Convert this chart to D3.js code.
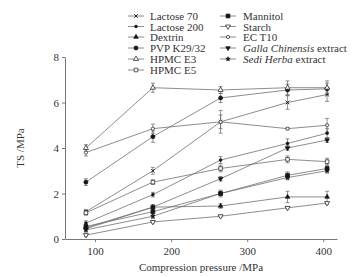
<!DOCTYPE html>
<html><head><meta charset="utf-8">
<script src="https://cdn.jsdelivr.net/npm/d3@7"></script>
<style>body{margin:0;background:#fff}svg{display:block}</style>
</head><body>
<svg id="c" width="357" height="277"></svg>
<script>
const pressures = [88, 176, 265, 353, 405];
const xTicks = [100, 200, 300, 400];
const yTicks = [0, 2, 4, 6, 8];
const seriesNames = ["Lactose 70","Lactose 200","Dextrin","PVP K29/32","HPMC E3","HPMC E5","Mannitol","Starch","EC T10","Galla Chinensis extract","Sedi Herba extract"];
const lactose70 = [1.2, 3.0, 5.15, 6.0, 6.35];
const lactose200 = [0.7, 1.95, 3.47, 4.2, 4.65];
const dextrin = [0.5, 1.4, 1.45, 1.85, 1.85];
const pvp = [2.5, 4.5, 6.2, 6.55, 6.6];
const hpmcE3 = [4.0, 6.65, 6.55, 6.65, 6.65];
const hpmcE5 = [1.15, 2.5, 3.1, 3.5, 3.4];
const mannitol = [0.55, 1.2, 2.0, 2.8, 3.1];
const starch = [0.17, 0.75, 1.0, 1.37, 1.58];
const ecT10 = [3.8, 4.85, 5.15, 4.85, 5.0];
const galla = [0.45, 1.4, 2.65, 4.0, 4.35];
const sedi = [0.4, 1.0, 2.0, 2.7, 3.0];
const errLactose70 = [0.1, 0.15, 0.3, 0.3, 0.3];
const errLactose200 = [0.1, 0.1, 0.15, 0.2, 0.2];
const errDextrin = [0.1, 0.1, 0.1, 0.25, 0.25];
const errPvp = [0.15, 0.25, 0.2, 0.25, 0.25];
const errHpmcE3 = [0.15, 0.2, 0.15, 0.3, 0.3];
const errHpmcE5 = [0.1, 0.1, 0.15, 0.15, 0.15];
const errMannitol = [0.1, 0.15, 0.15, 0.15, 0.15];
const errStarch = [0.05, 0.05, 0.05, 0.05, 0.05];
const errEcT10 = [0.15, 0.2, 0.5, 0.05, 0.3];
const errGalla = [0.1, 0.1, 0.1, 0.1, 0.1];
const errSedi = [0.1, 0.1, 0.1, 0.1, 0.1];

const values = [lactose70, lactose200, dextrin, pvp, hpmcE3, hpmcE5, mannitol, starch, ecT10, galla, sedi];
const errs = [errLactose70, errLactose200, errDextrin, errPvp, errHpmcE3, errHpmcE5, errMannitol, errStarch, errEcT10, errGalla, errSedi];
// marker specs: [symbol, size, filled, rotate]
const markers = [
  [d3.symbolX, 10, false, 0],
  [d3.symbolCircle, 6, true, 0],
  [d3.symbolTriangle, 9, true, 0],
  [d3.symbolCircle, 13, true, 0],
  [d3.symbolTriangle, 11, false, 0],
  [d3.symbolSquare, 13, false, 0],
  [d3.symbolSquare, 15, true, 0],
  [d3.symbolTriangle, 11, false, 180],
  [d3.symbolCircle, 8, false, 0],
  [d3.symbolTriangle, 9, true, 180],
  [d3.symbolStar, 6, true, 0]
];

const svg = d3.select("#c");
const font = "'Liberation Serif', 'Times New Roman', serif";
const x = d3.scaleLinear().domain([60.5, 418]).range([65, 337]);
const y = d3.scaleLinear().domain([0, 8]).range([239, 57]);

const lineCol = "#707070", markCol = "#151515";
const g = svg.append("g");

// axes
const xa = svg.append("g").attr("transform","translate(0,239)")
  .call(d3.axisBottom(x).tickValues(xTicks).tickSize(3).tickSizeOuter(0).tickPadding(5));
const ya = svg.append("g").attr("transform","translate(65,0)")
  .call(d3.axisLeft(y).tickValues(yTicks).tickSize(3).tickSizeOuter(0).tickPadding(3));
[xa, ya].forEach(a => {
  a.select(".domain").attr("stroke","#777").attr("stroke-width",1);
  a.selectAll(".tick line").attr("stroke","#777");
  a.selectAll("text").attr("font-family",font).attr("font-size",11).attr("fill","#333");
});

svg.append("text").attr("x",201).attr("y",271).attr("text-anchor","middle")
  .attr("font-family",font).attr("font-size",11).attr("fill","#333").text("Compression pressure /MPa");
svg.append("text").attr("transform","translate(24,148) rotate(-90)").attr("text-anchor","middle")
  .attr("font-family",font).attr("font-size",11).attr("fill","#333").text("TS /MPa");

const line = d3.line().x((d,i)=>x(pressures[i])).y(d=>y(d));

function drawMarker(sel, m, cx, cy) {
  const [sym, size, filled, rot] = m;
  const stroke = (sym === d3.symbolX);
  sel.append("path").attr("d", d3.symbol(sym, size)())
    .attr("transform", `translate(${cx},${cy}) rotate(${rot})`)
    .attr("fill", (filled && !stroke) ? markCol : "#fff")
    .attr("stroke", markCol).attr("stroke-width", stroke ? 0.9 : 0.7);
}

values.forEach((vals, s) => {
  g.append("path").datum(vals).attr("d", line).attr("fill","none")
    .attr("stroke", lineCol).attr("stroke-width", 0.8);
});
values.forEach((vals, s) => {
  vals.forEach((v, i) => {
    const e = errs[s][i], cx = x(pressures[i]);
    g.append("line").attr("x1",cx).attr("x2",cx).attr("y1",y(v-e)).attr("y2",y(v+e))
      .attr("stroke","#666").attr("stroke-width",0.7);
    [v-e, v+e].forEach(t => g.append("line").attr("x1",cx-2).attr("x2",cx+2)
      .attr("y1",y(t)).attr("y2",y(t)).attr("stroke","#666").attr("stroke-width",0.7));
  });
});
values.forEach((vals, s) => {
  vals.forEach((v, i) => drawMarker(g, markers[s], x(pressures[i]), y(v)));
});

// legend
const leftRows = [0,1,2,3,4,5], rightRows = [6,7,8,9,10];
const rowY = [16, 26.5, 37, 48, 59, 70];
function legendItem(s, lx, tx, ry) {
  const lg = svg.append("g");
  lg.append("line").attr("x1",lx).attr("x2",lx+16).attr("y1",ry).attr("y2",ry)
    .attr("stroke",lineCol).attr("stroke-width",0.8);
  drawMarker(lg, markers[s], lx+8, ry);
  const t = lg.append("text").attr("x",tx).attr("y",ry+4)
    .attr("font-family",font).attr("font-size",11).attr("fill","#333");
  const name = seriesNames[s];
  if (name.endsWith(" extract")) {
    t.append("tspan").attr("font-style","italic").text(name.replace(" extract",""));
    t.append("tspan").text(" extract");
  } else t.text(name);
}
leftRows.forEach((s,k) => legendItem(s, 128, 150, rowY[k]));
rightRows.forEach((s,k) => legendItem(s, 220, 243, rowY[k]));
</script>
</body></html>
